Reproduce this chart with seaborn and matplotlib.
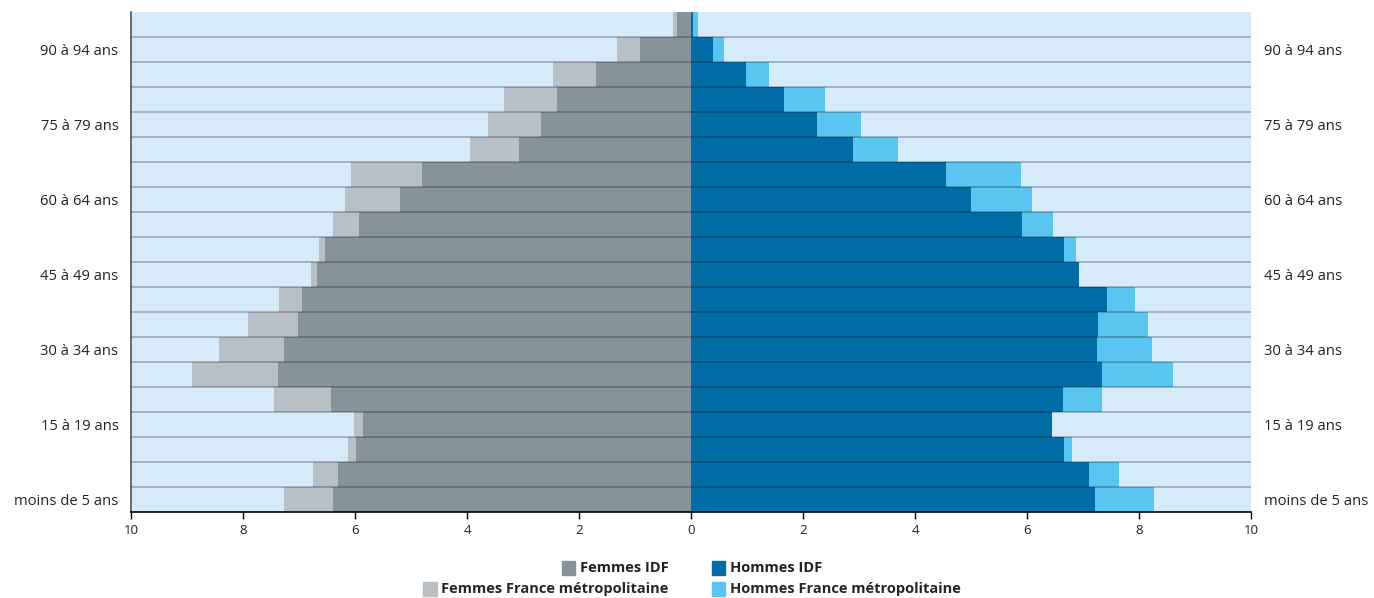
import matplotlib
matplotlib.use("Agg")
import matplotlib.pyplot as plt
import seaborn as sns
from matplotlib.patches import Patch

# age groups, top (oldest) to bottom (youngest)
ages = ["95 ans ou plus", "90 à 94 ans", "85 à 89 ans", "80 à 84 ans", "75 à 79 ans",
        "70 à 74 ans", "65 à 69 ans", "60 à 64 ans", "55 à 59 ans", "50 à 54 ans",
        "45 à 49 ans", "40 à 44 ans", "35 à 39 ans", "30 à 34 ans", "25 à 29 ans",
        "20 à 24 ans", "15 à 19 ans", "10 à 14 ans", "5 à 9 ans", "moins de 5 ans"]

femmes_idf = [0.25, 0.91, 1.70, 2.39, 2.68, 3.07, 4.80, 5.20, 5.93, 6.54,
              6.68, 6.95, 7.02, 7.27, 7.38, 6.43, 5.86, 5.98, 6.30, 6.39]
femmes_fm = [0.32, 1.32, 2.46, 3.34, 3.63, 3.95, 6.07, 6.18, 6.39, 6.64,
             6.79, 7.36, 7.91, 8.43, 8.91, 7.45, 6.02, 6.13, 6.75, 7.27]
hommes_idf = [0.04, 0.39, 0.98, 1.66, 2.25, 2.89, 4.55, 5.00, 5.91, 6.66,
              6.93, 7.43, 7.27, 7.25, 7.34, 6.64, 6.45, 6.66, 7.11, 7.21]
hommes_fm = [0.12, 0.59, 1.39, 2.39, 3.04, 3.70, 5.89, 6.09, 6.46, 6.88,
             6.80, 7.93, 8.16, 8.23, 8.61, 7.34, 6.30, 6.80, 7.64, 8.27]

shown_labels = ["90 à 94 ans", "75 à 79 ans", "60 à 64 ans", "45 à 49 ans",
                "30 à 34 ans", "15 à 19 ans", "moins de 5 ans"]
x_ticks = [-10, -8, -6, -4, -2, 0, 2, 4, 6, 8, 10]

C_F_IDF = "#87939b"
C_F_FM = "#b8c0c7"
C_H_IDF = "#006da6"
C_H_FM = "#5bc5f2"
C_BG = "#d5ebfa"

sns.set_theme(style="white")
plt.rcParams["font.family"] = ["Open Sans", "DejaVu Sans"]

fig = plt.figure(figsize=(13.74, 5.98), dpi=100)
ax = fig.add_axes([131 / 1374, 1 - 512 / 598, 1120 / 1374, 500 / 598])
ax.set_facecolor(C_BG)

sns.barplot(x=[-v for v in femmes_fm], y=ages, order=ages, color=C_F_FM,
            width=1.0, saturation=1, linewidth=0, orient="h", ax=ax)
sns.barplot(x=[-v for v in femmes_idf], y=ages, order=ages, color=C_F_IDF,
            width=1.0, saturation=1, linewidth=0, orient="h", ax=ax)
sns.barplot(x=hommes_fm, y=ages, order=ages, color=C_H_FM,
            width=1.0, saturation=1, linewidth=0, orient="h", ax=ax)
sns.barplot(x=hommes_idf, y=ages, order=ages, color=C_H_IDF,
            width=1.0, saturation=1, linewidth=0, orient="h", ax=ax)

# separators between rows
for k in range(1, len(ages)):
    ax.axhline(k - 0.5, color="black", alpha=0.25, lw=1.3, zorder=5)

ax.set_xlim(-10, 10)
ax.set_ylim(len(ages) - 0.5, -0.5)
ax.set_xticks(x_ticks)
ax.set_xticklabels([str(abs(t)) for t in x_ticks], fontsize=9.5, color="#222222")
ax.tick_params(axis="x", bottom=True, length=5, width=1, color="black", pad=4)

pos = [ages.index(a) for a in shown_labels]
ax.set_yticks(pos)
ax.set_yticklabels(shown_labels, fontsize=10.6, color="#222222")
ax.tick_params(axis="y", left=False, right=False, length=0,
               labelleft=True, labelright=True, pad=9)
ax.set_xlabel("")
ax.set_ylabel("")

for s in ["top", "right"]:
    ax.spines[s].set_visible(False)
ax.spines["left"].set_color("#555555")
ax.spines["left"].set_linewidth(1.2)
ax.spines["bottom"].set_color("black")
ax.spines["bottom"].set_linewidth(1.2)

row1 = [Patch(color=C_F_IDF, label="Femmes IDF"), Patch(color=C_H_IDF, label="Hommes IDF")]
row2 = [Patch(color=C_F_FM, label="Femmes France métropolitaine"),
        Patch(color=C_H_FM, label="Hommes France métropolitaine")]
leg_kw = dict(ncol=2, frameon=False, handlelength=0.9, handleheight=1.1,
              handletextpad=0.3, columnspacing=3.0, loc="center",
              prop={"weight": "bold", "size": 10.5})
leg1 = fig.legend(handles=row1, bbox_to_anchor=(692 / 1374, 1 - 568 / 598), **leg_kw)
fig.legend(handles=row2, bbox_to_anchor=(692 / 1374, 1 - 589 / 598), **leg_kw)
for t in leg1.get_texts():
    t.set_color("#222222")

fig.savefig("out.png", dpi=100)
